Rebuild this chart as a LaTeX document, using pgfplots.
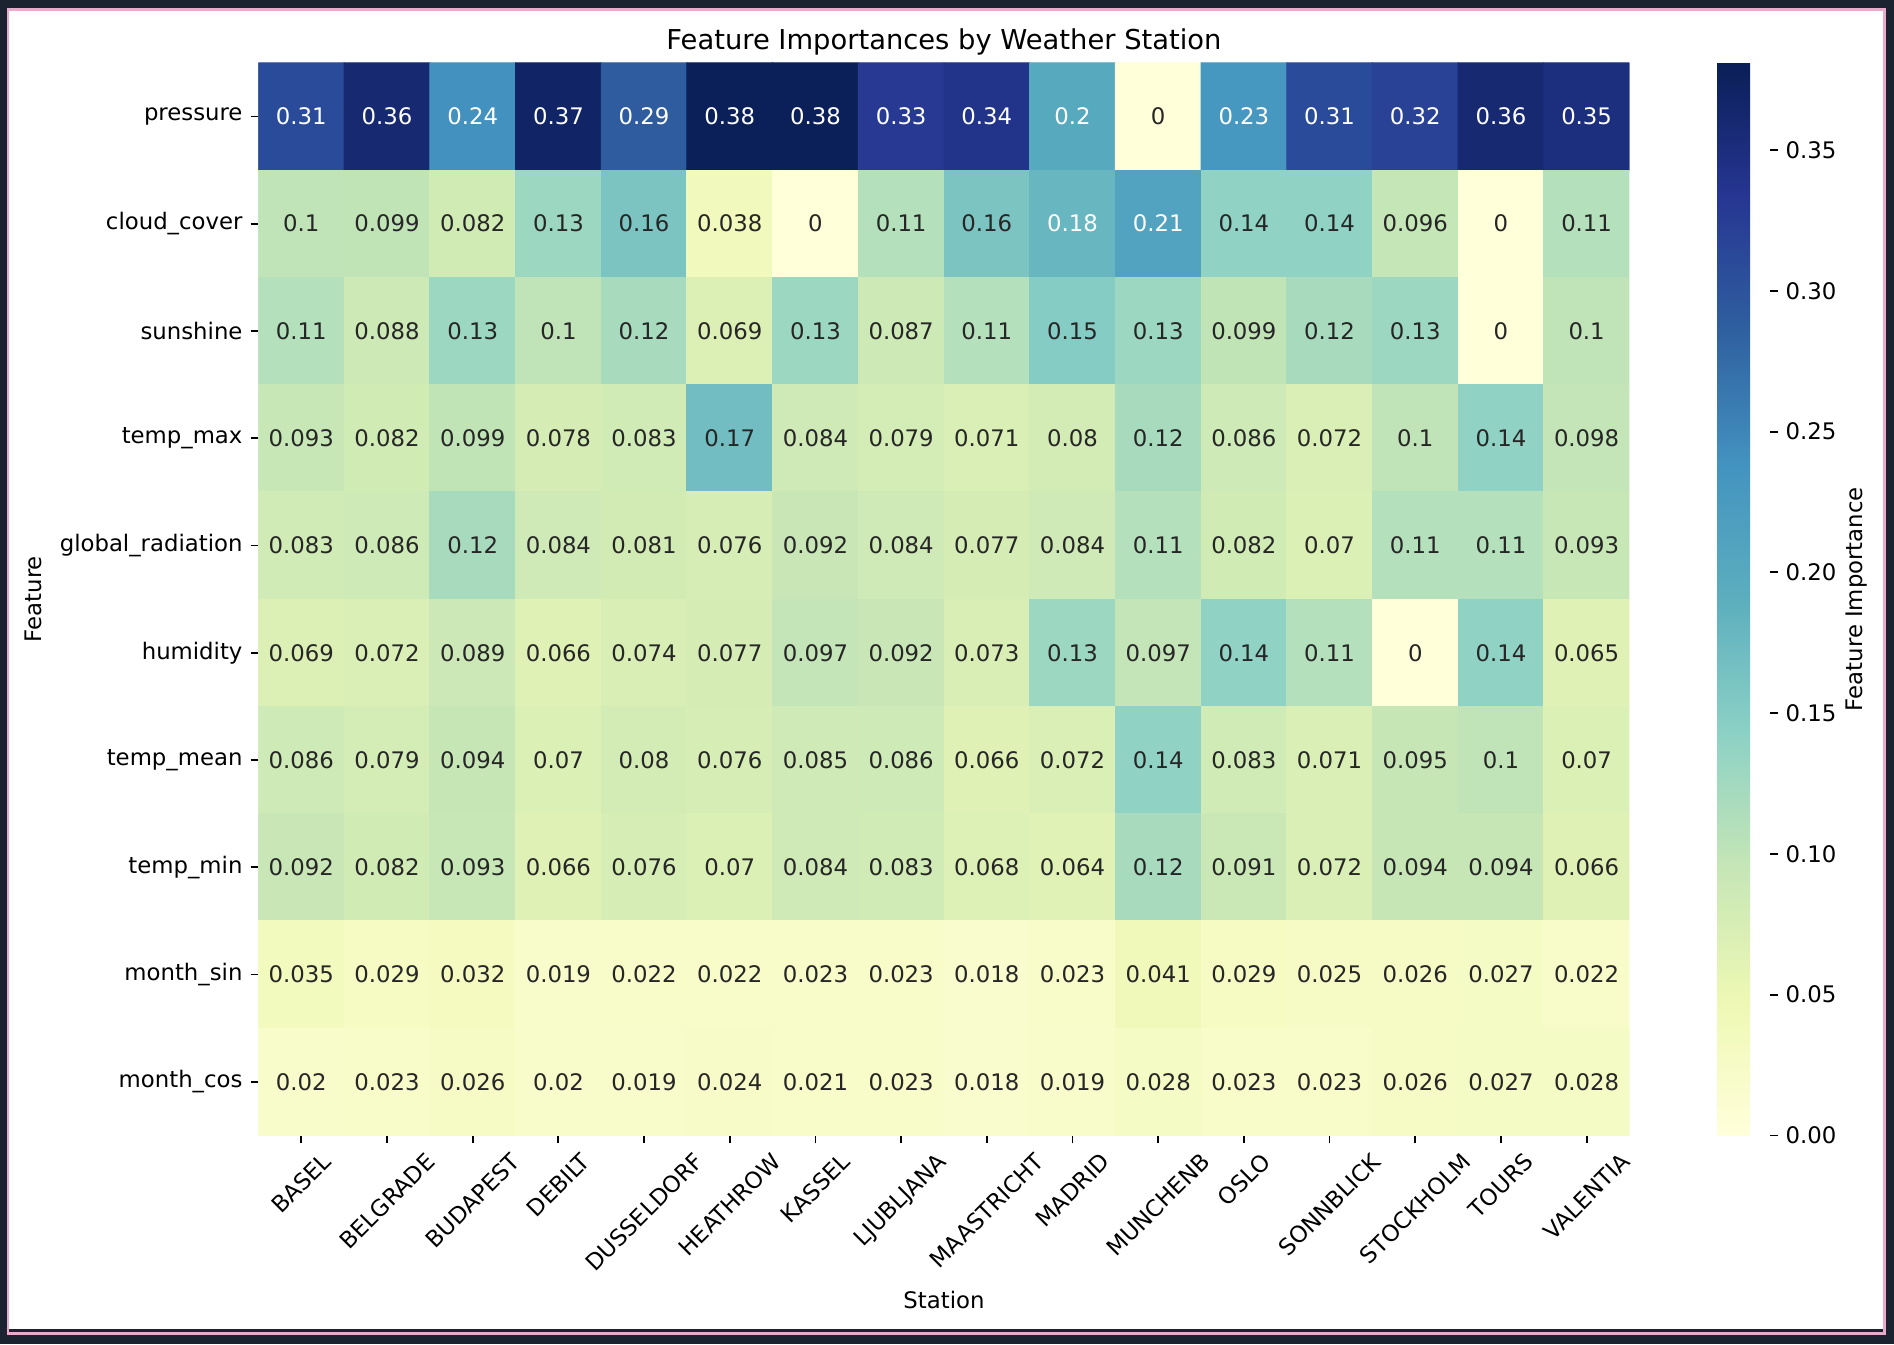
\documentclass[border=0pt]{standalone}
\usepackage{fontspec}
\setmainfont{DejaVu Sans}
\usepackage{graphicx}
\usepackage{pgfplots}
\usepackage{pgfplotstable}
\pgfplotsset{compat=1.18}

\definecolor{framedark}{RGB}{27,34,48}
\definecolor{framepink}{RGB}{232,172,202}
\definecolor{annot}{HTML}{262626}

% x = station index, y = feature (9 = pressure at the top), v = importance
\pgfplotstableread[row sep=\\]{%
x y v\\%
0 9 0.31\\1 9 0.36\\2 9 0.24\\3 9 0.37\\4 9 0.29\\5 9 0.38\\6 9 0.38\\7 9 0.33\\8 9 0.34\\9 9 0.2\\10 9 0\\11 9 0.23\\12 9 0.31\\13 9 0.32\\14 9 0.36\\15 9 0.35\\%
0 8 0.1\\1 8 0.099\\2 8 0.082\\3 8 0.13\\4 8 0.16\\5 8 0.038\\6 8 0\\7 8 0.11\\8 8 0.16\\9 8 0.18\\10 8 0.21\\11 8 0.14\\12 8 0.14\\13 8 0.096\\14 8 0\\15 8 0.11\\%
0 7 0.11\\1 7 0.088\\2 7 0.13\\3 7 0.1\\4 7 0.12\\5 7 0.069\\6 7 0.13\\7 7 0.087\\8 7 0.11\\9 7 0.15\\10 7 0.13\\11 7 0.099\\12 7 0.12\\13 7 0.13\\14 7 0\\15 7 0.1\\%
0 6 0.093\\1 6 0.082\\2 6 0.099\\3 6 0.078\\4 6 0.083\\5 6 0.17\\6 6 0.084\\7 6 0.079\\8 6 0.071\\9 6 0.08\\10 6 0.12\\11 6 0.086\\12 6 0.072\\13 6 0.1\\14 6 0.14\\15 6 0.098\\%
0 5 0.083\\1 5 0.086\\2 5 0.12\\3 5 0.084\\4 5 0.081\\5 5 0.076\\6 5 0.092\\7 5 0.084\\8 5 0.077\\9 5 0.084\\10 5 0.11\\11 5 0.082\\12 5 0.07\\13 5 0.11\\14 5 0.11\\15 5 0.093\\%
0 4 0.069\\1 4 0.072\\2 4 0.089\\3 4 0.066\\4 4 0.074\\5 4 0.077\\6 4 0.097\\7 4 0.092\\8 4 0.073\\9 4 0.13\\10 4 0.097\\11 4 0.14\\12 4 0.11\\13 4 0\\14 4 0.14\\15 4 0.065\\%
0 3 0.086\\1 3 0.079\\2 3 0.094\\3 3 0.07\\4 3 0.08\\5 3 0.076\\6 3 0.085\\7 3 0.086\\8 3 0.066\\9 3 0.072\\10 3 0.14\\11 3 0.083\\12 3 0.071\\13 3 0.095\\14 3 0.1\\15 3 0.07\\%
0 2 0.092\\1 2 0.082\\2 2 0.093\\3 2 0.066\\4 2 0.076\\5 2 0.07\\6 2 0.084\\7 2 0.083\\8 2 0.068\\9 2 0.064\\10 2 0.12\\11 2 0.091\\12 2 0.072\\13 2 0.094\\14 2 0.094\\15 2 0.066\\%
0 1 0.035\\1 1 0.029\\2 1 0.032\\3 1 0.019\\4 1 0.022\\5 1 0.022\\6 1 0.023\\7 1 0.023\\8 1 0.018\\9 1 0.023\\10 1 0.041\\11 1 0.029\\12 1 0.025\\13 1 0.026\\14 1 0.027\\15 1 0.022\\%
0 0 0.02\\1 0 0.023\\2 0 0.026\\3 0 0.02\\4 0 0.019\\5 0 0.024\\6 0 0.021\\7 0 0.023\\8 0 0.018\\9 0 0.019\\10 0 0.028\\11 0 0.023\\12 0 0.023\\13 0 0.026\\14 0 0.027\\15 0 0.028\\%
}\heat

\begin{document}
\begin{tikzpicture}
% screenshot frame
\path[use as bounding box] (-113.42pt,-91.69pt) rectangle (717.62pt,498.2pt);
\fill[framedark] (-113.42pt,-91.69pt) rectangle (717.62pt,498.2pt);
\fill[framepink] (-110.52pt,-87.74pt) rectangle (714.12pt,494.7pt);
\fill[framedark] (-109.47pt,-86.39pt) rectangle (712.82pt,493.4pt);
\fill[white] (-109.47pt,-84.79pt) rectangle (712.82pt,493.4pt);

\begin{axis}[
  at={(0pt,0pt)}, anchor=south west,
  scale only axis, width=601.55pt, height=470.64pt,
  xmin=-0.5, xmax=15.5, ymin=-0.5, ymax=9.5, enlargelimits=false,
  axis line style={draw=none},
  tick align=outside, major tick length=3.5pt,
  major tick style={black, line width=0.8pt},
  xtick pos=left, ytick pos=left,
  xtick={0,...,15}, ytick={0,...,9},
  xticklabels={\rotatebox{45}{BASEL},\rotatebox{45}{BELGRADE},\rotatebox{45}{BUDAPEST},\rotatebox{45}{DEBILT},\rotatebox{45}{DUSSELDORF},\rotatebox{45}{HEATHROW},\rotatebox{45}{KASSEL},\rotatebox{45}{LJUBLJANA},\rotatebox{45}{MAASTRICHT},\rotatebox{45}{MADRID},\rotatebox{45}{MUNCHENB},\rotatebox{45}{OSLO},\rotatebox{45}{SONNBLICK},\rotatebox{45}{STOCKHOLM},\rotatebox{45}{TOURS},\rotatebox{45}{VALENTIA}},
  yticklabels={month\_cos,month\_sin,temp\_min,temp\_mean,humidity,global\_radiation,temp\_max,sunshine,cloud\_cover,pressure},
  xticklabel style={anchor=north},
  title={Feature Importances by Weather Station},
  title style={at={(axis description cs:0.5,1)}, anchor=base, font=\fontsize{12}{14.4}\selectfont},
  xlabel={Station},
  xlabel style={at={(axis description cs:0.5,-0.1532)}, anchor=center},
  ylabel={Feature},
  ylabel style={at={(axis description cs:-0.1639,0.5)}, anchor=center},
  colormap={ylgnbu}{rgb255=(255,255,218) rgb255=(238,248,180) rgb255=(198,230,182) rgb255=(140,209,197) rgb255=(92,174,190) rgb255=(67,147,192) rgb255=(47,96,160) rgb255=(38,54,146) rgb255=(10,30,87)},
  point meta min=0, point meta max=0.381,
  colorbar right,
  colorbar style={
    at={(parent axis.south east)}, anchor=south west, xshift=30.15pt,
    scale only axis, width=22.79pt, height=470.64pt,
    axis line style={draw=none},
    tick align=outside, major tick length=3.5pt,
    major tick style={black, line width=0.8pt},
    ytick={0,0.05,0.1,0.15,0.2,0.25,0.3,0.35},
    ytick pos=right, yticklabel pos=right,
    yticklabel style={/pgf/number format/.cd, fixed, fixed zerofill, precision=2, assume math mode=true},
    ylabel={Feature Importance},
    ylabel style={at={(axis description cs:2.674,0.5)}, anchor=center},
  },
]
\addplot[matrix plot*, mesh/cols=16, point meta=\thisrow{v}] table[x=x, y=y] {\heat};
\addplot[draw=none, point meta=explicit symbolic,
  nodes near coords={\pgfmathparse{\pgfplotspointmeta>0.175}\ifdim\pgfmathresult pt>0.5pt\color{white}\else\color{annot}\fi\pgfplotspointmeta},
  every node near coord/.append style={anchor=center, inner sep=0pt}]
  table[x=x, y=y, meta=v] {\heat};
\end{axis}
\end{tikzpicture}
\end{document}
